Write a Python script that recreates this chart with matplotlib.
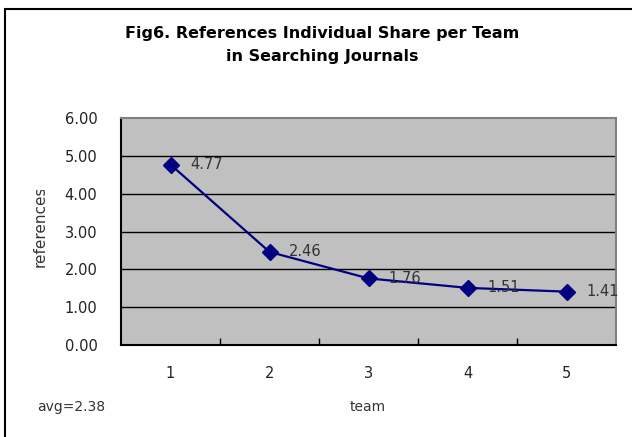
import matplotlib
matplotlib.use("Agg")
import matplotlib.pyplot as plt
from matplotlib.patches import Rectangle
from matplotlib.transforms import Bbox

teams = [1, 2, 3, 4, 5]
shares = [4.77, 2.46, 1.76, 1.51, 1.41]
value_labels = ["4.77", "2.46", "1.76", "1.51", "1.41"]
y_ticks = [0, 1, 2, 3, 4, 5, 6]
title = "Fig6. References Individual Share per Team\nin Searching Journals"
avg_text = "avg=2.38"

W, H = 632, 437
fig = plt.figure(figsize=(W / 100, H / 100), dpi=100)
fig.patch.set_facecolor("white")

# outer chart frame (extends past right/bottom edge)
frame = Rectangle((5 / W, -0.1), 1.2, 1 - 9 / H + 0.1, transform=fig.transFigure,
                  fill=False, edgecolor="black", linewidth=1.5)
fig.patches.append(frame)

# plot area in pixels
left, right, top, bottom = 121, 616, 118, 345
ax = fig.add_axes([left / W, 1 - bottom / H, (right - left) / W, (bottom - top) / H])
ax.set_facecolor("#C0C0C0")

ax.set_xlim(0.5, 5.5)
ax.set_ylim(0, 6)
ax.set_yticks(y_ticks)
ax.set_yticklabels([f"{v:.2f}" for v in y_ticks], fontsize=10.5, color="#222222")
ax.set_xticks(teams)
ax.set_xticklabels([str(t) for t in teams], fontsize=10.5, color="#222222")
ax.tick_params(axis="x", length=0, pad=15)
ax.tick_params(axis="y", length=0, pad=17)

# minor ticks between categories, pointing inward
ax.set_xticks([1.5, 2.5, 3.5, 4.5], minor=True)
ax.tick_params(axis="x", which="minor", direction="in", length=5, width=1, color="black")

for v in y_ticks[1:-1]:
    ax.axhline(v, color="black", linewidth=1, zorder=1)

for side in ["top", "right"]:
    ax.spines[side].set_color("#808080")
    ax.spines[side].set_linewidth(1.5)
for side in ["left", "bottom"]:
    ax.spines[side].set_color("black")
    ax.spines[side].set_linewidth(1.5)

ax.plot(teams, shares, color="#000080", linewidth=1.6, marker="D",
        markersize=8, markerfacecolor="#000080", markeredgecolor="#000080", zorder=3)

for x, y, lab in zip(teams, shares, value_labels):
    ax.annotate(lab, (x, y), xytext=(14, 0), textcoords="offset points",
                va="center", ha="left", fontsize=10.5, color="#333333",
                annotation_clip=False, zorder=4)

fig.text(322 / W, 1 - 45 / H, title, ha="center", va="center", fontsize=11.5,
         fontweight="bold", linespacing=1.6, color="black")

# y label is cut off at the top in the original chart
ylab = fig.text(40 / W, 1 - 267 / H, "references", rotation=90, ha="center",
                va="bottom", fontsize=11, color="#333333")
ylab.set_clip_box(Bbox.from_extents(0, 0, 120, H - 190))
ylab.set_clip_on(True)

fig.text(368 / W, 1 - 407 / H, "team", ha="center", va="center", fontsize=10,
         color="#333333")
fig.text(37 / W, 1 - 407 / H, avg_text, ha="left", va="center", fontsize=10,
         color="#333333")

fig.savefig("out.png", dpi=100)
